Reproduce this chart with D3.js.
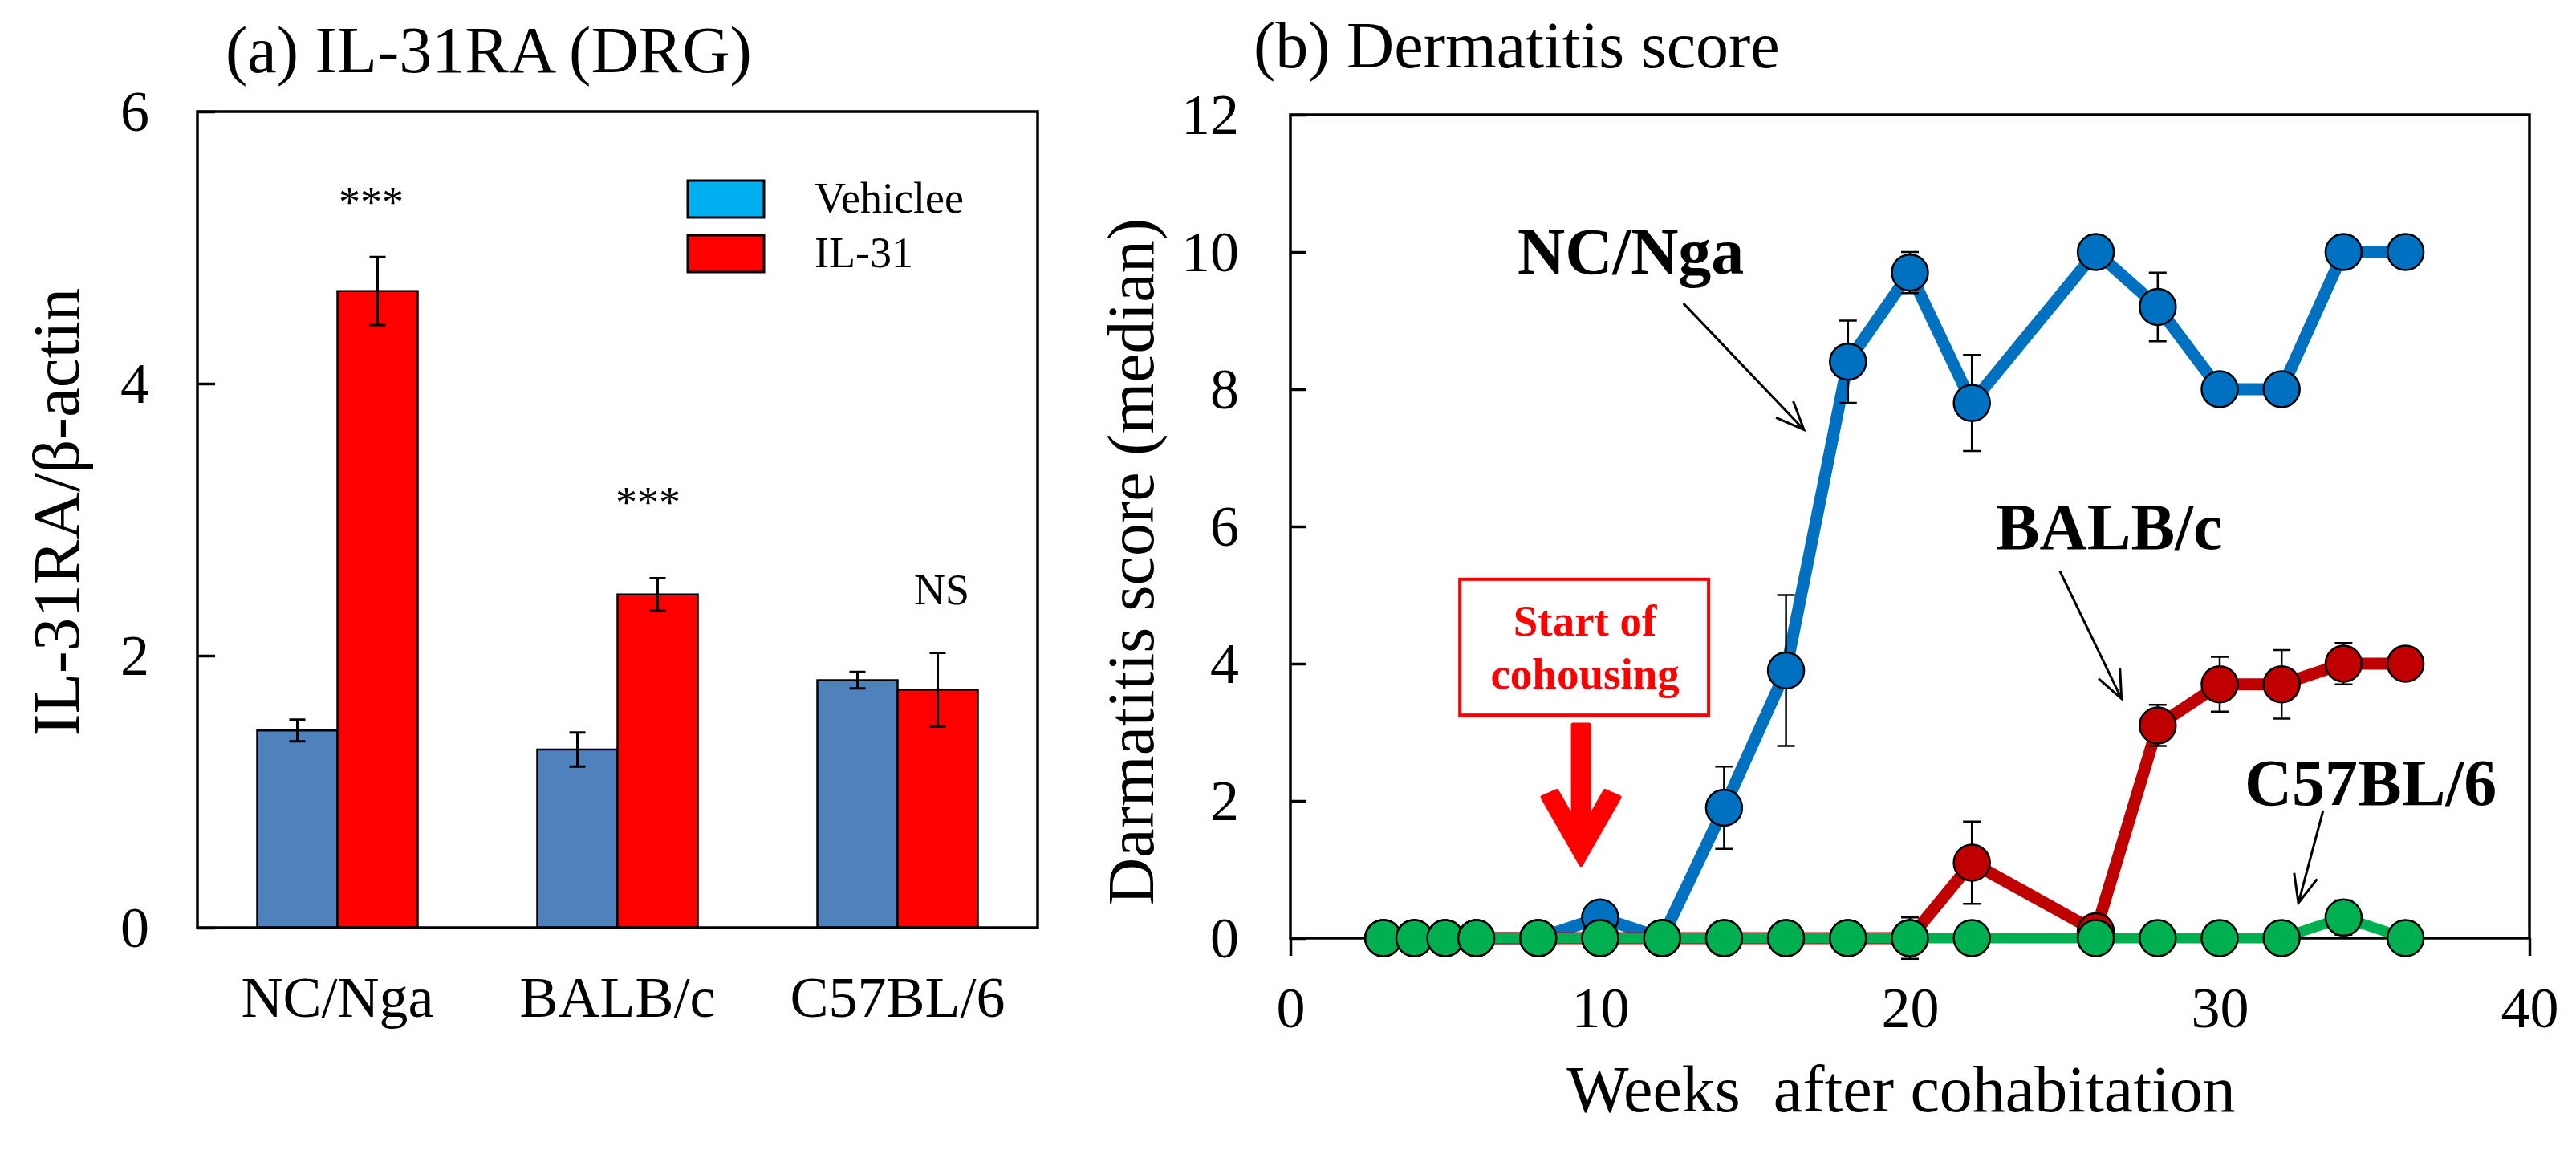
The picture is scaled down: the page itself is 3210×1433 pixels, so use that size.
<!DOCTYPE html>
<html>
<head>
<meta charset="utf-8">
<script src="https://cdn.jsdelivr.net/npm/d3@7"></script>
<style>
  body { margin: 0; background: #fff; }
  svg text { font-family: 'Liberation Serif', 'Times New Roman', serif; fill: #000; }
</style>
</head>
<body>
<svg id="fig" width="3210" height="1433"></svg>
<script>
'use strict';

//(a) IL-31RA / beta-actin in DRG
var strains = ['NC/Nga', 'BALB/c', 'C57BL/6'];
var treatments = ['Vehiclee', 'IL-31'];
var vehicle = [1.45, 1.31, 1.82];
var vehicleErr = [0.08, 0.125, 0.06];
var il31 = [4.68, 2.45, 1.75];
var il31Err = [0.25, 0.12, 0.27];
var signif = ['***', '***', 'NS'];
var barTicks = [0, 2, 4, 6];

//(b) dermatitis score (median) by week
var weeks = [3, 4, 5, 6, 8, 10, 12, 14, 16, 18, 20, 22, 26, 28, 30, 32, 34, 36];
var ncNga = [0, 0, 0, 0, 0, 0.3, 0, 1.9, 3.9, 8.4, 9.7, 7.8, 10, 9.2, 8, 8, 10, 10];
var ncNgaErr = [0, 0, 0, 0, 0, 0, 0, 0.6, 1.1, 0.6, 0.3, 0.7, 0, 0.5, 0, 0, 0, 0];
var balbC = [0, 0, 0, 0, 0, 0, 0, 0, 0, 0, 0, 1.1, 0.1, 3.1, 3.7, 3.7, 4, 4];
var balbCErr = [0, 0, 0, 0, 0, 0, 0, 0, 0, 0, 0.3, 0.6, 0, 0.3, 0.4, 0.5, 0.3, 0];
var c57 = [0, 0, 0, 0, 0, 0, 0, 0, 0, 0, 0, 0, 0, 0, 0, 0, 0.3, 0];
var c57Err = [0, 0, 0, 0, 0, 0, 0, 0, 0, 0, 0, 0, 0, 0, 0, 0, 0.25, 0];
var weekTicks = [0, 10, 20, 30, 40];
var scoreTicks = [0, 2, 4, 6, 8, 10, 12];

var svg = d3.select('#fig');
var AX = 3.5; //axis stroke
var SERIF = "'Liberation Serif', 'Times New Roman', serif";

function arrowHead(x1, y1, x2, y2, len, ang) {
    var a = Math.atan2(y1 - y2, x1 - x2);
    var p1 = [x2 + len * Math.cos(a + ang), y2 + len * Math.sin(a + ang)];
    var p2 = [x2 + len * Math.cos(a - ang), y2 + len * Math.sin(a - ang)];
    return 'M' + p1 + 'L' + [x2, y2] + 'L' + p2;
}

/* ---------- panel (a) ---------- */
var pa = { left: 246, right: 1293, top: 139, bottom: 1156 };

var x0 = d3.scaleBand().domain(strains).range([pa.left, pa.right])
    .paddingInner(0.427).paddingOuter(0.2135);
var x1 = d3.scaleBand().domain(treatments).range([0, x0.bandwidth()]);
var yA = d3.scaleLinear().domain([0, 6]).range([pa.bottom, pa.top]);
var barFill = { 'Vehiclee': '#4F81BD', 'IL-31': '#FF0000' };
var legendFill = { 'Vehiclee': '#00B0F0', 'IL-31': '#FF0000' };

var groups = strains.map(function (s, i) {
    return {
        strain: s,
        bars: [
            { key: 'Vehiclee', v: vehicle[i], e: vehicleErr[i] },
            { key: 'IL-31', v: il31[i], e: il31Err[i] }
        ]
    };
});

svg.append('text').text('(a) IL-31RA (DRG)')
    .attr('x', 281).attr('y', 90).style('font-size', '82px');

var gA = svg.append('g');
var g = gA.selectAll('.grp').data(groups).enter().append('g')
    .attr('transform', function (d) { return 'translate(' + x0(d.strain) + ',0)'; });

g.selectAll('rect').data(function (d) { return d.bars; }).enter().append('rect')
    .attr('x', function (d) { return x1(d.key); })
    .attr('y', function (d) { return yA(d.v); })
    .attr('width', x1.bandwidth())
    .attr('height', function (d) { return yA(0) - yA(d.v); })
    .style('fill', function (d) { return barFill[d.key]; })
    .style('stroke', '#000').style('stroke-width', 2.5);

var eb = g.selectAll('.eb').data(function (d) { return d.bars; }).enter().append('g');
eb.append('path')
    .attr('d', function (d) {
        var cx = x1(d.key) + x1.bandwidth() / 2;
        var t = yA(d.v + d.e), b = yA(d.v - d.e);
        return 'M' + cx + ',' + t + 'V' + b +
            'M' + (cx - 10) + ',' + t + 'H' + (cx + 10) +
            'M' + (cx - 10) + ',' + b + 'H' + (cx + 10);
    })
    .style('fill', 'none').style('stroke', '#000').style('stroke-width', 3);

//significance marks above IL-31 bars
var sigY = [5.23, 3.02, 2.38];
var sigDx = [-8, -12, 5];
gA.selectAll('.sig').data(signif).enter().append('text')
    .text(function (d) { return d; })
    .attr('x', function (d, i) { return x0(strains[i]) + x1('IL-31') + x1.bandwidth() / 2 + sigDx[i]; })
    .attr('y', function (d, i) { return yA(sigY[i]); })
    .attr('text-anchor', 'middle').style('font-size', '54px');

//frame
gA.append('rect').attr('x', pa.left).attr('y', pa.top)
    .attr('width', pa.right - pa.left).attr('height', pa.bottom - pa.top)
    .style('fill', 'none').style('stroke', '#000').style('stroke-width', AX);

var yAxA = gA.append('g').attr('transform', 'translate(' + pa.left + ',0)')
    .call(d3.axisLeft(yA).tickValues(barTicks).tickFormat(d3.format('d'))
        .tickSizeInner(-22).tickSizeOuter(0).tickPadding(60));
yAxA.select('.domain').remove();
yAxA.selectAll('line').style('stroke-width', AX);
yAxA.selectAll('text').style('font-size', '72px').style('font-family', SERIF);

var xAxA = gA.append('g').attr('transform', 'translate(0,' + pa.bottom + ')')
    .call(d3.axisBottom(x0).tickSize(0));
xAxA.select('.domain').remove();
xAxA.selectAll('text').attr('y', 111).attr('dy', 0)
    .style('font-size', '72px').style('font-family', SERIF);

svg.append('text').text('IL-31RA/\u03b2-actin')
    .attr('transform', 'translate(98,638) rotate(-90)')
    .attr('text-anchor', 'middle').style('font-size', '83px');

//legend
var lg = gA.selectAll('.lg').data(treatments).enter().append('g')
    .attr('transform', function (d, i) { return 'translate(857,' + (225 + i * 68) + ')'; });
lg.append('rect').attr('width', 95).attr('height', 46)
    .style('fill', function (d) { return legendFill[d]; })
    .style('stroke', '#000').style('stroke-width', 3);
lg.append('text').text(function (d) { return d; })
    .attr('x', 158).attr('y', 40).style('font-size', '54px');

/* ---------- panel (b) ---------- */
var pb = { left: 1608, right: 3152, top: 143, bottom: 1169 };
var xB = d3.scaleLinear().domain([0, 40]).range([pb.left, pb.right]);
var yB = d3.scaleLinear().domain([0, 12]).range([pb.bottom, pb.top]);

svg.append('text').text('(b) Dermatitis score')
    .attr('x', 1562).attr('y', 84).style('font-size', '82px');

var gB = svg.append('g');

gB.append('rect').attr('x', pb.left).attr('y', pb.top)
    .attr('width', pb.right - pb.left).attr('height', pb.bottom - pb.top)
    .style('fill', 'none').style('stroke', '#000').style('stroke-width', AX);

var yAxB = gB.append('g').attr('transform', 'translate(' + pb.left + ',0)')
    .call(d3.axisLeft(yB).tickValues(scoreTicks).tickFormat(d3.format('d'))
        .tickSizeInner(-20).tickSizeOuter(0).tickPadding(64));
yAxB.select('.domain').remove();
yAxB.selectAll('line').style('stroke-width', AX);
yAxB.selectAll('text').style('font-size', '72px').style('font-family', SERIF);

var xAxB = gB.append('g').attr('transform', 'translate(0,' + pb.bottom + ')')
    .call(d3.axisBottom(xB).tickValues(weekTicks).tickFormat(d3.format('d'))
        .tickSizeInner(22).tickSizeOuter(0));
xAxB.select('.domain').remove();
xAxB.selectAll('line').style('stroke-width', AX);
xAxB.selectAll('text').attr('y', 111).attr('dy', 0)
    .style('font-size', '72px').style('font-family', SERIF);

svg.append('text').text('Darmatitis score (median)')
    .attr('transform', 'translate(1437,700) rotate(-90)')
    .attr('text-anchor', 'middle').style('font-size', '82px');

svg.append('text').text('Weeks\u00a0 after cohabitation')
    .attr('x', 2369).attr('y', 1385)
    .attr('text-anchor', 'middle').style('font-size', '82px');

var series = [
    { name: 'NC/Nga', color: '#0070C0', width: 15, vals: ncNga, errs: ncNgaErr },
    { name: 'BALB/c', color: '#C00000', width: 15, vals: balbC, errs: balbCErr },
    { name: 'C57BL/6', color: '#00B050', width: 13, vals: c57, errs: c57Err }
];

var line = d3.line()
    .x(function (d) { return xB(d.w); })
    .y(function (d) { return yB(d.v); });

series.forEach(function (s) {
    var pts = weeks.map(function (w, i) { return { w: w, v: s.vals[i], e: s.errs[i] }; });
    var gs = gB.append('g');
    gs.append('path').datum(pts).attr('d', line)
        .style('fill', 'none').style('stroke', s.color)
        .style('stroke-width', s.width).style('stroke-linejoin', 'miter');
    gs.selectAll('.err').data(pts.filter(function (d) { return d.e > 0; })).enter().append('path')
        .attr('d', function (d) {
            var cx = xB(d.w), t = yB(d.v + d.e), b = yB(d.v - d.e);
            return 'M' + cx + ',' + t + 'V' + b +
                'M' + (cx - 11) + ',' + t + 'H' + (cx + 11) +
                'M' + (cx - 11) + ',' + b + 'H' + (cx + 11);
        })
        .style('fill', 'none').style('stroke', '#000').style('stroke-width', 2.5);
    gs.selectAll('circle').data(pts).enter().append('circle')
        .attr('cx', function (d) { return xB(d.w); })
        .attr('cy', function (d) { return yB(d.v); })
        .attr('r', 22.5)
        .style('fill', s.color).style('stroke', '#000').style('stroke-width', 2.5);
});

//strain labels with pointer arrows (positions in week/score units)
var labels = [
    { text: 'NC/Nga', x: 7.33, y: 9.69, from: [12.69, 9.25], to: [16.58, 7.41] },
    { text: 'BALB/c', x: 22.77, y: 5.67, from: [24.84, 5.35], to: [26.83, 3.49] },
    { text: 'C57BL/6', x: 30.80, y: 1.94, from: [33.34, 1.86], to: [32.54, 0.51] }
];
labels.forEach(function (l) {
    gB.append('text').text(l.text)
        .attr('x', xB(l.x)).attr('y', yB(l.y))
        .style('font-size', '82px').style('font-weight', 'bold');
    var ax1 = xB(l.from[0]), ay1 = yB(l.from[1]), ax2 = xB(l.to[0]), ay2 = yB(l.to[1]);
    gB.append('path')
        .attr('d', 'M' + ax1 + ',' + ay1 + 'L' + ax2 + ',' + ay2 + arrowHead(ax1, ay1, ax2, ay2, 38, 0.4))
        .style('fill', 'none').style('stroke', '#000').style('stroke-width', 3);
});

//start of cohousing marker
var box = { x0: 5.47, x1: 13.50, y0: 5.23, y1: 3.25, cx: 9.51 };
gB.append('rect')
    .attr('x', xB(box.x0)).attr('y', yB(box.y0))
    .attr('width', xB(box.x1) - xB(box.x0)).attr('height', yB(box.y1) - yB(box.y0))
    .style('fill', '#fff').style('stroke', '#FF0000').style('stroke-width', 4);
gB.selectAll('.co').data(['Start of', 'cohousing']).enter().append('text')
    .text(function (d) { return d; })
    .attr('x', xB(box.cx))
    .attr('y', function (d, i) { return yB(4.41) + i * 66; })
    .attr('text-anchor', 'middle')
    .style('font-size', '55px').style('font-weight', 'bold').style('fill', '#FF0000');

var ac = xB(9.38), aTop = yB(3.11), aTip = yB(1.07);
var arrowPts = [
    [ac - 10, aTop], [ac - 10, aTip - 57], [ac - 30, aTip - 92], [ac - 48, aTip - 84],
    [ac, aTip], [ac + 48, aTip - 84], [ac + 30, aTip - 92], [ac + 10, aTip - 57], [ac + 10, aTop]
];
gB.append('path')
    .attr('d', 'M' + arrowPts.join('L') + 'Z')
    .style('fill', '#FF0000').style('stroke', '#FF0000')
    .style('stroke-width', 5).style('stroke-linejoin', 'round');
</script>
</body>
</html>
